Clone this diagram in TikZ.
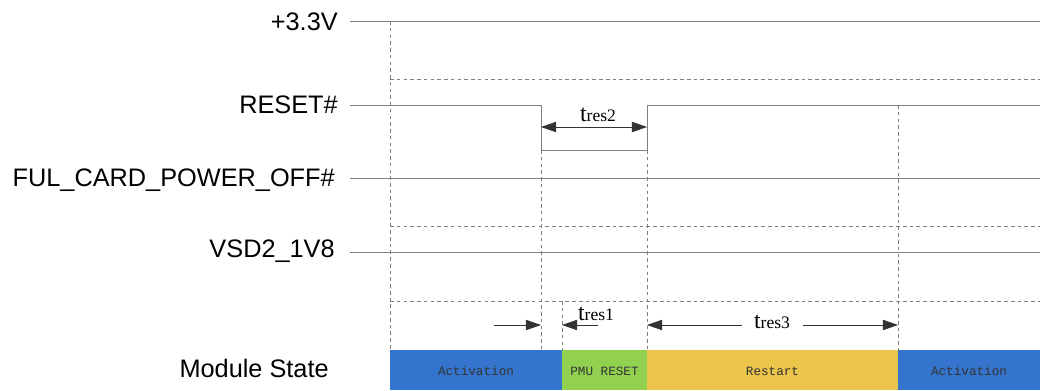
\documentclass[tikz,border=0pt]{standalone}
\usepackage{fontspec}
\setmainfont{Liberation Sans}
\newfontfamily\tfont{Liberation Serif}
\newfontfamily\sfont{Liberation Mono}
\usetikzlibrary{arrows.meta}
\definecolor{actblue}{HTML}{3474CC}
\definecolor{pmugreen}{HTML}{92D050}
\definecolor{rstyellow}{HTML}{EAC54A}
\tikzset{sig/.style={draw=black!50,line width=0.7pt},
  grid/.style={draw=black!50,line width=0.5pt,dash pattern=on 2.6pt off 2.2pt},
  lbl/.style={anchor=base east,inner sep=0,font=\fontsize{18}{20}\selectfont},
  dim/.style={draw=black!80,line width=0.5pt},
  tlbl/.style={inner sep=0,font=\tfont\fontsize{17}{18}\selectfont},
  state/.style={inner sep=0,text=black!80,font=\sfont\fontsize{9}{10}\selectfont}}

\begin{document}
\begin{tikzpicture}[x=0.025cm,y=-0.025cm,>={Triangle[length=0.38cm,width=0.26cm]}]
        \useasboundingbox (0,0) rectangle (1040,390);

        % signal names
        \node[lbl] (v33) at (338,30) {+3.3V};
        \node[lbl] (rst) at (338,113) {RESET\#};
        \node[lbl] (ful) at (335,186) {FUL\_CARD\_POWER\_OFF\#};
        \node[lbl] (vsd) at (335,257) {VSD2\_1V8};
        \node[lbl] (mod) at (329,377) {Module State};

        % state bar
        \fill[actblue] (390,350) rectangle (562,390);
        \fill[pmugreen] (562,350) rectangle (647,390);
        \fill[rstyellow] (647,350) rectangle (898,390);
        \fill[actblue] (898,350) rectangle (1040,390);
        \node[state] (st1) at (476,371) {Activation};
        \node[state] (st2) at (604.5,371) {PMU RESET};
        \node[state] (st3) at (772.5,371) {Restart};
        \node[state] (st4) at (969,371) {Activation};

        % dashed guides
        \draw[grid] (390,79) -- (1040,79);
        \draw[grid] (390,226) -- (1040,226);
        \draw[grid] (390,301) -- (1040,301);
        \draw[grid] (390,21) -- (390,350);
        \draw[grid] (541,150) -- (541,350);
        \draw[grid] (562,301) -- (562,350);
        \draw[grid] (647,150) -- (647,350);
        \draw[grid] (898,105) -- (898,350);

        % signals
        \draw[sig] (350,21) -- (1040,21);
        \draw[sig] (350,105) -- (541,105) -- (541,150) -- (647,150) -- (647,105) -- (1040,105);
        \draw[sig] (350,178) -- (1040,178);
        \draw[sig] (350,252) -- (1040,252);

        % timings
        \coordinate (r2a) at (541,127);
        \coordinate (r2b) at (647,127);
        \draw[dim,<->] (r2a) -- (r2b);
        \node[tlbl] (tr2) at (598,115) {t{\fontsize{12.5}{13}\selectfont res2}};

        \coordinate (r1a) at (494,325);
        \coordinate (r1b) at (541,325);
        \coordinate (r1c) at (598,325);
        \coordinate (r1d) at (562,325);
        \draw[dim,->] (r1a) -- (r1b);
        \draw[dim,->] (r1c) -- (r1d);
        \node[tlbl] (tr1) at (596,314) {t{\fontsize{12.5}{13}\selectfont res1}};

        \coordinate (r3a) at (742,325);
        \coordinate (r3b) at (647,325);
        \coordinate (r3c) at (803,325);
        \coordinate (r3d) at (898,325);
        \draw[dim,->] (r3a) -- (r3b);
        \draw[dim,->] (r3c) -- (r3d);
        \node[tlbl] (tr3) at (772,322) {t{\fontsize{12.5}{13}\selectfont res3}};
\end{tikzpicture}
\end{document}
